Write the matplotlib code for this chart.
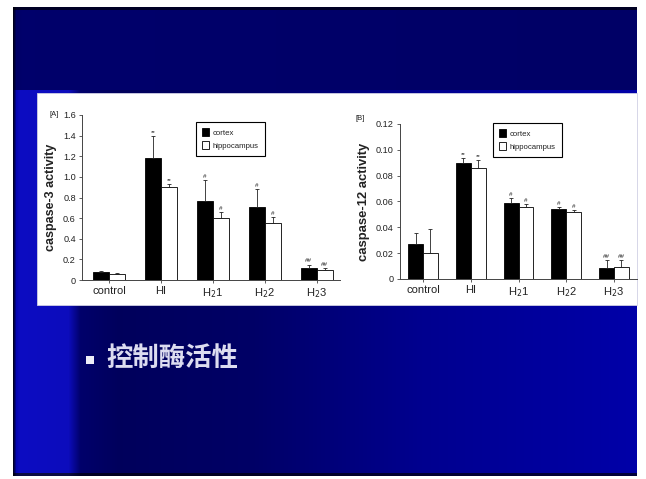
import numpy as np
import matplotlib
matplotlib.use("Agg")
import matplotlib.pyplot as plt
from matplotlib.patches import Rectangle

# ---- data -------------------------------------------------------------
categories = ["control", "HI", "H$_2$1", "H$_2$2", "H$_2$3"]
series_names = ["cortex", "hippocampus"]

casp3_cortex = [0.08, 1.18, 0.77, 0.71, 0.12]
casp3_cortex_err = [0.01, 0.22, 0.20, 0.17, 0.03]
casp3_hippo = [0.06, 0.90, 0.60, 0.55, 0.10]
casp3_hippo_err = [0.01, 0.03, 0.06, 0.06, 0.02]
casp3_ticks = [0, 0.2, 0.4, 0.6, 0.8, 1.0, 1.2, 1.4, 1.6]
casp3_ticklabels = ["0", "0.2", "0.4", "0.6", "0.8", "1.0", "1.2", "1.4", "1.6"]

casp12_cortex = [0.027, 0.090, 0.059, 0.054, 0.0085]
casp12_cortex_err = [0.009, 0.004, 0.004, 0.0015, 0.006]
casp12_hippo = [0.020, 0.086, 0.056, 0.052, 0.009]
casp12_hippo_err = [0.019, 0.006, 0.002, 0.0015, 0.006]
casp12_ticks = [0, 0.02, 0.04, 0.06, 0.08, 0.10, 0.12]
casp12_ticklabels = ["0", "0.02", "0.04", "0.06", "0.08", "0.10", "0.12"]

sig_cortex = ["", "**", "#", "#", "##"]
sig_hippo = ["", "**", "#", "#", "##"]

bullet_text = "控制酶活性"

# ---- figure & slide background ---------------------------------------
W, H = 646, 479
fig = plt.figure(figsize=(W / 100, H / 100), dpi=100)
fig.patch.set_facecolor("white")

bg_ax = fig.add_axes([0, 0, 1, 1])
bg_ax.set_xlim(0, W)
bg_ax.set_ylim(H, 0)
bg_ax.axis("off")

img = np.ones((H, W, 3))
x0, x1, y0, y1 = 13, 637, 7, 476
cols = np.arange(x0, x1)
# lower part of the slide: bright left strip, dark middle, brighter right
low_b = np.interp(cols, [13, 16, 20, 68, 80, 120, 250, 420, 637],
                  [0.15, 0.70, 0.76, 0.74, 0.42, 0.36, 0.40, 0.56, 0.66])
low_r = np.interp(cols, [13, 20, 68, 80, 637], [0.0, 0.05, 0.05, 0.0, 0.0])
top_b = np.interp(cols, [13, 16, 22, 637], [0.12, 0.40, 0.42, 0.40])
for yy in range(y0, y1):
    if yy < 10:
        b = top_b * 0.35
        r = np.zeros_like(b)
    elif yy < 90:
        b = top_b
        r = np.zeros_like(b)
    else:
        b = low_b
        r = low_r
    if yy > y1 - 4:
        b = b * 0.35
    img[yy, x0:x1, 0] = r
    img[yy, x0:x1, 1] = r
    img[yy, x0:x1, 2] = b
bg_ax.imshow(img, extent=(0, W, H, 0), aspect="auto", interpolation="bilinear")

# white chart panel
bg_ax.add_patch(Rectangle((37, 93), 600, 212, facecolor="white",
                          edgecolor="#d0d0e4", linewidth=0.6))

# bullet point
bg_ax.add_patch(Rectangle((86, 356), 8, 8, facecolor="#ececf8", edgecolor="none"))
bg_ax.text(106, 358, bullet_text, fontsize=19, color="#dcdcf0",
           fontweight="bold", va="center", ha="left",
           family=["Noto Sans CJK SC", "DejaVu Sans"])

# ---- bar charts -------------------------------------------------------
FONT = "Liberation Sans"
TXT = "#222222"


def bar_panel(rect, xlim, ylim, cortex, cortex_err, hippo, hippo_err,
              ticks, ticklabels, ylabel, tag, tag_xy, leg_xy, off, ylab_size):
    ax = fig.add_axes(rect)
    ax.set_facecolor("none")
    x = np.arange(len(categories))
    w = 0.31
    ax.bar(x - w / 2, cortex, w, color="black", edgecolor="black", linewidth=0.6,
           label=series_names[0], zorder=2)
    ax.bar(x + w / 2, hippo, w, color="white", edgecolor="black", linewidth=0.6,
           label=series_names[1], zorder=2)
    ax.errorbar(x - w / 2, cortex, yerr=[np.zeros(len(x)), cortex_err],
                fmt="none", ecolor="#222222", elinewidth=0.6, capsize=1.5,
                capthick=0.6, zorder=3)
    ax.errorbar(x + w / 2, hippo, yerr=[np.zeros(len(x)), hippo_err],
                fmt="none", ecolor="#222222", elinewidth=0.6, capsize=1.5,
                capthick=0.6, zorder=3)
    for i in range(len(x)):
        ax.text(x[i] - w / 2, cortex[i] + cortex_err[i] + off, sig_cortex[i],
                ha="center", va="bottom", fontsize=4.5, color=TXT, family=FONT)
        ax.text(x[i] + w / 2, hippo[i] + hippo_err[i] + off, sig_hippo[i],
                ha="center", va="bottom", fontsize=4.5, color=TXT, family=FONT)
    ax.set_xlim(*xlim)
    ax.set_ylim(*ylim)
    ax.set_xticks(x)
    ax.set_xticklabels(categories, fontsize=8, color=TXT, family=FONT)
    ax.set_yticks(ticks)
    ax.set_yticklabels(ticklabels, fontsize=6.6, color=TXT, family=FONT)
    for s in ("top", "right"):
        ax.spines[s].set_visible(False)
    for s in ("left", "bottom"):
        ax.spines[s].set_linewidth(0.7)
        ax.spines[s].set_color("#444444")
    ax.tick_params(direction="out", length=2.5, width=0.6, color="#444444", pad=2)
    ax.set_ylabel(ylabel, fontsize=ylab_size, fontweight="bold", color=TXT,
                  family=FONT, labelpad=4)
    fig.text(tag_xy[0] / W, 1 - tag_xy[1] / H, tag, fontsize=5.5, color=TXT,
             family=FONT, ha="left", va="center")
    leg = ax.legend(loc="upper left", bbox_to_anchor=(leg_xy[0] / W, 1 - leg_xy[1] / H),
                    bbox_transform=fig.transFigure, frameon=True,
                    fancybox=False, edgecolor="black", framealpha=1,
                    borderaxespad=0, handlelength=0.9, handleheight=1.1,
                    handletextpad=0.4, borderpad=0.8, labelspacing=0.6,
                    prop={"family": FONT, "size": 5.6})
    leg.get_frame().set_linewidth(0.8)
    for t in leg.get_texts():
        t.set_color(TXT)
    return ax


bar_panel([82 / W, 1 - 280 / H, 258 / W, 165 / H], (-0.52, 4.45), (0, 1.6),
          casp3_cortex, casp3_cortex_err, casp3_hippo, casp3_hippo_err,
          casp3_ticks, casp3_ticklabels, "caspase-3 activity", "[A]", (50, 115),
          (196, 122), 0.01, 9.0)
bar_panel([400 / W, 1 - 279 / H, 237 / W, 155 / H], (-0.48, 4.48), (0, 0.12),
          casp12_cortex, casp12_cortex_err, casp12_hippo, casp12_hippo_err,
          casp12_ticks, casp12_ticklabels, "caspase-12 activity", "[B]", (356, 118),
          (493, 123), 0.0008, 9.4)

fig.savefig("out.png", dpi=100)
